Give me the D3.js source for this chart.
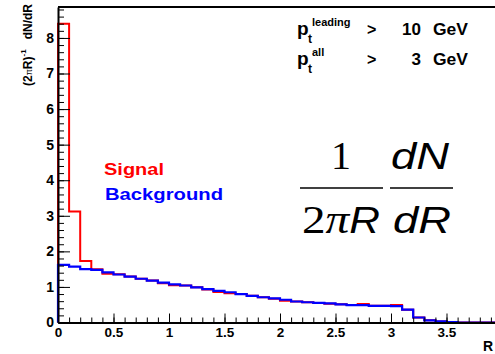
<!DOCTYPE html>
<html>
<head>
<meta charset="UTF-8">
<title>dN/dR</title>
<script src="https://d3js.org/d3.v7.min.js"></script>
<style>
	body { margin: 0; background: #fff; }
	svg { display: block; font-family: "Liberation Sans", Arial, sans-serif; }
</style>
</head>
<body>
	<div id="svg-container"></div>
	<script type="text/javascript">

		// bin edges every 0.1 from 0 to 4
		let binEdges = d3.range(0, 41).map(i => i / 10);

		let signal = [8.40, 3.12, 1.73, 1.50, 1.37, 1.36, 1.29, 1.23, 1.18, 1.10,
		              1.05, 1.04, 0.99, 0.93, 0.86, 0.82, 0.80, 0.75, 0.71, 0.67,
		              0.61, 0.59, 0.57, 0.55, 0.53, 0.51, 0.49, 0.52, 0.47, 0.47,
		              0.49, 0.36, 0.14, 0.06, 0.03, 0.01, 0, 0, 0, 0];

		let background = [1.62, 1.57, 1.50, 1.48, 1.41, 1.35, 1.29, 1.23, 1.18, 1.12,
		                  1.07, 1.04, 0.99, 0.94, 0.89, 0.85, 0.80, 0.75, 0.71, 0.68,
		                  0.64, 0.59, 0.57, 0.55, 0.54, 0.51, 0.49, 0.49, 0.47, 0.47,
		                  0.46, 0.36, 0.14, 0.06, 0.03, 0.01, 0, 0, 0, 0];

		let xTicks = [0, 0.5, 1, 1.5, 2, 2.5, 3, 3.5];
		let yTicks = [0, 1, 2, 3, 4, 5, 6, 7, 8];

		let width = 495, height = 354;
		let plotLeft = 58, plotRight = 502, plotTop = 7, plotBottom = 322.5;

		let svg = d3.select("#svg-container")
			.append("svg")
			.attr("width", width)
			.attr("height", height);

		let x = d3.scaleLinear().domain([0, 4]).range([plotLeft, plotRight]);
		let y = d3.scaleLinear().domain([0, 8.87]).range([plotBottom, plotTop]);

		// turn bin contents into a step outline
		function steps(values) {
			let pts = [[0, 0]];
			values.forEach((v, i) => {
				pts.push([binEdges[i], v]);
				pts.push([binEdges[i + 1], v]);
			});
			return pts;
		}

		let line = d3.line()
			.x(d => x(d[0]))
			.y(d => y(d[1]));

		svg.append("path")
			.attr("d", line(steps(signal)))
			.attr("fill", "none")
			.attr("stroke", "#ff0000")
			.attr("stroke-width", 2);

		svg.append("path")
			.attr("d", line(steps(background)))
			.attr("fill", "none")
			.attr("stroke", "#0000ff")
			.attr("stroke-width", 2.2);

		// frame top line
		svg.append("line")
			.attr("x1", plotLeft).attr("x2", plotRight)
			.attr("y1", plotTop).attr("y2", plotTop)
			.attr("stroke", "#000").attr("stroke-width", 2);

		// y axis: major + minor ticks pointing inward
		let yMinor = svg.append("g")
			.attr("transform", `translate(${plotLeft},0)`)
			.call(d3.axisLeft(y).tickValues(d3.range(0, 45).map(i => i / 5)).tickSize(-6).tickFormat(""));
		yMinor.select(".domain").remove();

		let yAxis = svg.append("g")
			.attr("transform", `translate(${plotLeft},0)`)
			.call(d3.axisLeft(y).tickValues(yTicks).tickSizeInner(-12).tickSizeOuter(0).tickPadding(4).tickFormat(d3.format("d")));

		// x axis
		let xMinor = svg.append("g")
			.attr("transform", `translate(0,${plotBottom})`)
			.call(d3.axisBottom(x).tickValues(d3.range(0, 41).map(i => i / 10)).tickSize(-5).tickFormat(""));
		xMinor.select(".domain").remove();

		let xAxis = svg.append("g")
			.attr("transform", `translate(0,${plotBottom})`)
			.call(d3.axisBottom(x).tickValues(xTicks).tickSizeInner(-9).tickSizeOuter(0).tickPadding(5).tickFormat(d3.format("~g")));

		svg.selectAll(".tick line").attr("stroke", "#000").attr("stroke-width", 1);
		svg.selectAll(".domain").attr("stroke", "#000").attr("stroke-width", 2);
		svg.selectAll(".tick text")
			.attr("font-family", "'Liberation Sans', Arial, sans-serif")
			.attr("font-weight", "bold")
			.attr("fill", "#000");
		yAxis.selectAll(".tick text").attr("font-size", 14);
		xAxis.selectAll(".tick text").attr("font-size", 13.5);

		// axis titles
		let yTitle = svg.append("text")
			.attr("transform", "translate(32,4) rotate(-90)")
			.attr("text-anchor", "end")
			.attr("font-size", 12)
			.attr("font-weight", "bold");
		yTitle.append("tspan").text("(2");
		yTitle.append("tspan").attr("font-size", 9).attr("font-weight", "normal").text("\u03c0");
		yTitle.append("tspan").text("R)");
		yTitle.append("tspan").attr("font-size", 8).attr("dy", -6).text("-1");
		yTitle.append("tspan").attr("dy", 6).text("\u00a0\u00a0 dN/dR");

		svg.append("text")
			.attr("x", 483).attr("y", 351)
			.attr("font-size", 14)
			.attr("font-weight", "bold")
			.text("R");

		// legend labels
		svg.append("text")
			.attr("x", 104).attr("y", 175)
			.attr("font-size", 17).attr("font-weight", "bold")
			.attr("fill", "#ff0000")
			.attr("textLength", 60).attr("lengthAdjust", "spacingAndGlyphs")
			.text("Signal");

		svg.append("text")
			.attr("x", 105).attr("y", 200)
			.attr("font-size", 17).attr("font-weight", "bold")
			.attr("fill", "#0000ff")
			.attr("textLength", 118).attr("lengthAdjust", "spacingAndGlyphs")
			.text("Background");

		// cut labels
		let cuts = [
			{ sup: "leading", value: "10", base: 35 },
			{ sup: "all", value: "3", base: 65 }
		];
		cuts.forEach(c => {
			svg.append("text").attr("x", 297).attr("y", c.base)
				.attr("font-size", 19).attr("font-weight", "bold").text("p");
			svg.append("text").attr("x", 308).attr("y", c.base + 8)
				.attr("font-size", 12).attr("font-weight", "bold").text("t");
			svg.append("text").attr("x", 312).attr("y", c.base - 9)
				.attr("font-size", 11).attr("font-weight", "bold").text(c.sup);
			svg.append("text").attr("x", 367).attr("y", c.base)
				.attr("font-size", 16).attr("font-weight", "bold").text(">");
			svg.append("text").attr("x", 421).attr("y", c.base)
				.attr("text-anchor", "end")
				.attr("font-size", 17).attr("font-weight", "bold").text(c.value);
			svg.append("text").attr("x", 433).attr("y", c.base)
				.attr("font-size", 17).attr("font-weight", "bold")
				.attr("textLength", 35).attr("lengthAdjust", "spacingAndGlyphs").text("GeV");
		});

		// big formula  1/(2 pi R) dN/dR
		let serif = "'Liberation Serif', 'Times New Roman', serif";
		let sans = "'Liberation Sans', Arial, sans-serif";

		svg.append("text").attr("x", 341).attr("y", 169)
			.attr("text-anchor", "middle")
			.attr("font-family", serif).attr("font-size", 40).text("1");

		svg.append("line").attr("x1", 300).attr("x2", 383).attr("y1", 188).attr("y2", 188)
			.attr("stroke", "#000").attr("stroke-width", 1.5);
		svg.append("line").attr("x1", 390).attr("x2", 453).attr("y1", 188).attr("y2", 188)
			.attr("stroke", "#000").attr("stroke-width", 1.5);

		let den = svg.append("text").attr("x", 302).attr("y", 233)
			.attr("textLength", 78).attr("lengthAdjust", "spacingAndGlyphs");
		den.append("tspan").attr("font-family", serif).attr("font-size", 40).text("2");
		den.append("tspan").attr("font-family", serif).attr("font-style", "italic").attr("font-size", 40).text("\u03c0");
		den.append("tspan").attr("font-family", sans).attr("font-style", "italic").attr("font-size", 36).text("R");

		svg.append("text").attr("x", 391).attr("y", 169)
			.attr("font-family", sans).attr("font-style", "italic").attr("font-size", 36)
			.attr("textLength", 58).attr("lengthAdjust", "spacingAndGlyphs").text("dN");

		svg.append("text").attr("x", 393).attr("y", 233)
			.attr("font-family", sans).attr("font-style", "italic").attr("font-size", 36)
			.attr("textLength", 58).attr("lengthAdjust", "spacingAndGlyphs").text("dR");

	</script>
</body>
</html>
